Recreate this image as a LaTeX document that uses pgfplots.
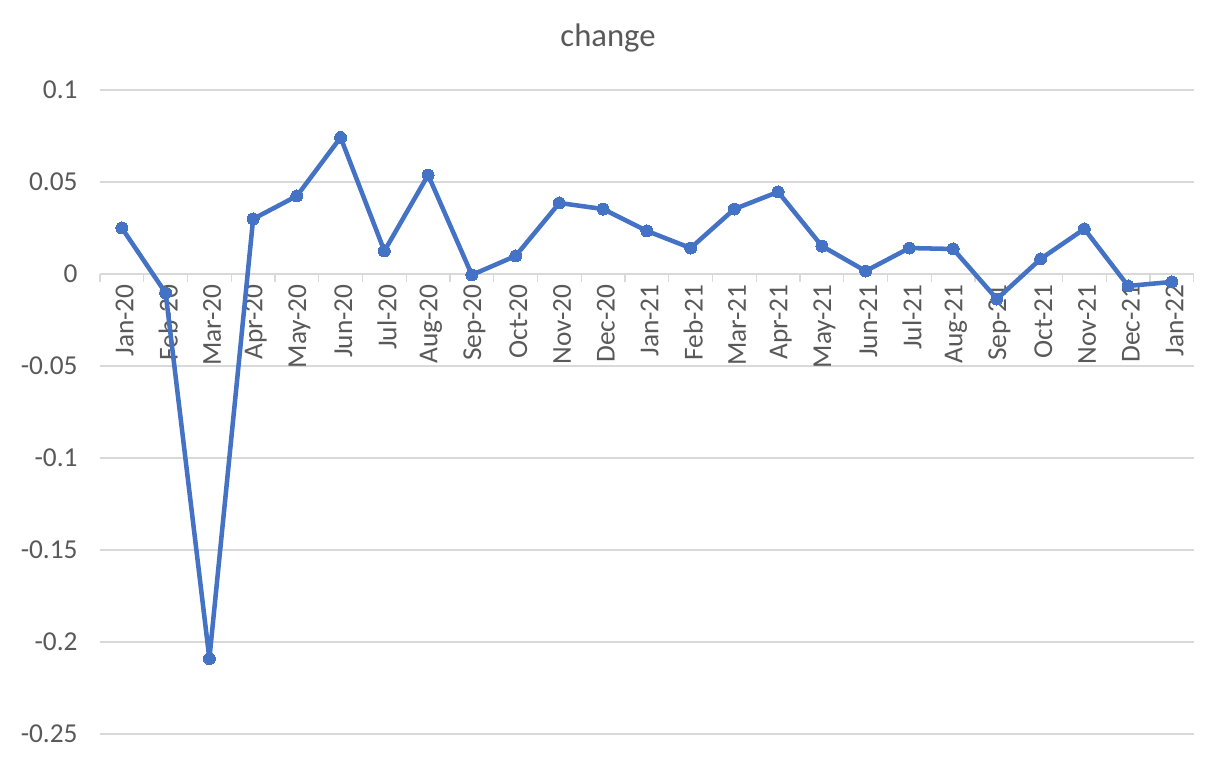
\documentclass[border=0pt]{standalone}
\usepackage{pgfplots}
\pgfplotsset{compat=1.18}
\usepackage{fontspec}
\setmainfont{Carlito}
\definecolor{lineblue}{HTML}{4472C4}
\definecolor{gridgray}{HTML}{D9D9D9}
\definecolor{textgray}{HTML}{595959}
\begin{document}
\begin{tikzpicture}
\useasboundingbox (0,0) rectangle (912pt,572.25pt);
\node[text=textgray, font=\fontsize{24.5}{28}\selectfont] at (456pt,543.75pt) {change};
\begin{axis}[
  at={(75pt,21.75pt)}, anchor=south west,
  scale only axis, width=820.3pt, height=483pt,
  xmin=-0.5, xmax=24.5, ymin=-0.25, ymax=0.1,
  axis x line*=middle, axis y line*=left,
  y axis line style={draw=none},
  x axis line style={gridgray, line width=1.1pt},
  tick align=outside,
  xtick={0,...,24},
  xticklabels={Jan-20,Feb-20,Mar-20,Apr-20,May-20,Jun-20,Jul-20,Aug-20,Sep-20,Oct-20,Nov-20,Dec-20,Jan-21,Feb-21,Mar-21,Apr-21,May-21,Jun-21,Jul-21,Aug-21,Sep-21,Oct-21,Nov-21,Dec-21,Jan-22},
  minor xtick={-0.5,0.5,...,24.5},
  major x tick style={draw=none},
  minor x tick style={gridgray, line width=1.1pt},
  minor tick length=6pt,
  ytick={-0.25,-0.2,-0.15,-0.1,-0.05,0,0.05,0.1},
  ytick style={draw=none},
  ymajorgrids, grid style={gridgray, line width=1.1pt},
  /pgf/number format/assume math mode=true,
  yticklabel style={/pgf/number format/fixed, /pgf/number format/precision=2, text=textgray, font=\fontsize{20.5}{24}\selectfont, xshift=-9pt},
  xticklabel style={rotate=90, anchor=east, text=textgray, font=\fontsize{20.5}{24}\selectfont, yshift=-2pt},
  clip=false,
]
\addplot[lineblue, line width=3.4pt, line join=round, mark=*, mark size=4.5pt, mark options={fill=lineblue, draw=lineblue, line width=0pt}] coordinates {
(0,0.025) (1,-0.0103) (2,-0.209) (3,0.0299) (4,0.0424) (5,0.0742) (6,0.0125) (7,0.0538) (8,-0.0005) (9,0.0098) (10,0.0386) (11,0.0353) (12,0.0234) (13,0.0141) (14,0.0353) (15,0.0446) (16,0.0152) (17,0.0016) (18,0.0141) (19,0.0136) (20,-0.0136) (21,0.0082) (22,0.0245) (23,-0.0065) (24,-0.0043)
};
\end{axis}
\end{tikzpicture}
\end{document}
